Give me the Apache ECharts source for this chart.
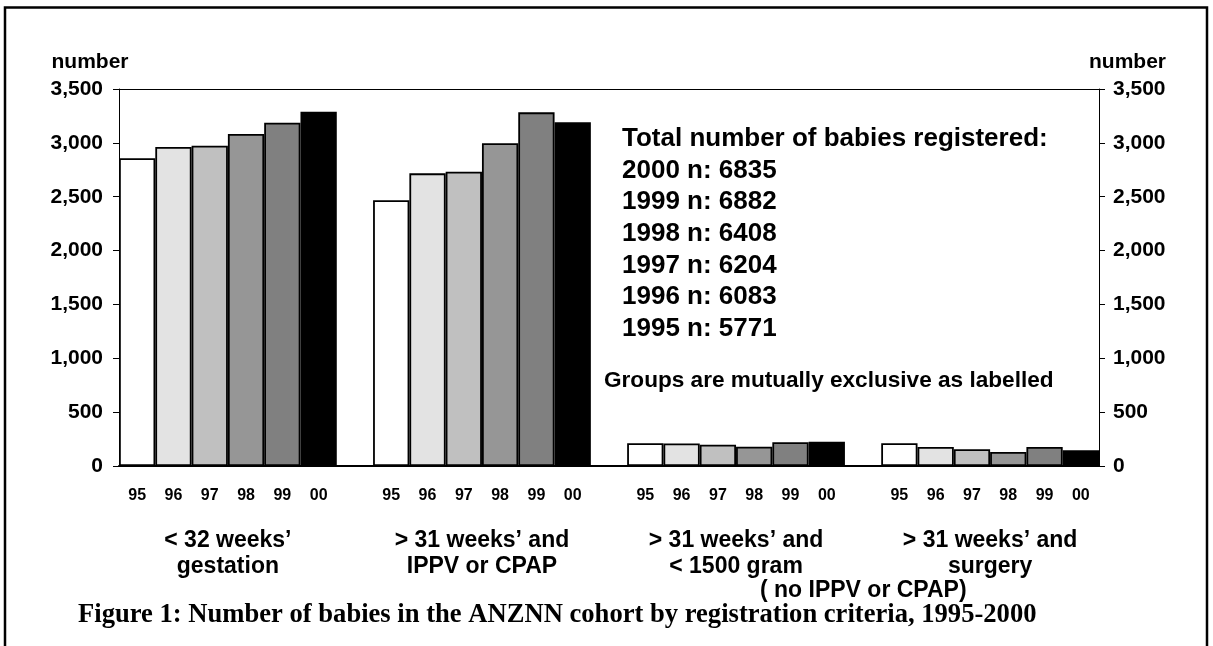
<!DOCTYPE html>
<html>
<head>
<meta charset="utf-8">
<title>ANZNN cohort by registration criteria</title>
<script src="https://cdn.jsdelivr.net/npm/echarts@6/dist/echarts.min.js"></script>
<style>
  html, body { margin: 0; padding: 0; background: #fff; }
  #main { width: 1213px; height: 646px; }
</style>
</head>
<body>
<div id="main"></div>
<script>
  // years shown under each bar
  var years = ['95', '96', '97', '98', '99', '00'];
  // registration groups
  var groupLabels = [
    '< 32 weeks’\ngestation',
    '> 31 weeks’ and\nIPPV or CPAP',
    '> 31 weeks’ and\n< 1500 gram',
    '> 31 weeks’ and\nsurgery'
  ];
  // values per year, one entry per group
  var y1995 = [2857, 2467, 211, 211];
  var y1996 = [2961, 2717, 210, 176];
  var y1997 = [2974, 2732, 198, 155];
  var y1998 = [3082, 2996, 179, 130];
  var y1999 = [3187, 3283, 220, 176];
  var y2000 = [3289, 3191, 226, 146];
  var yearValues = [y1995, y1996, y1997, y1998, y1999, y2000];
  // y axis ticks
  var yMin = 0, yMax = 3500, yStep = 500;
  // text block
  var totals = [
    'Total number of babies registered:',
    '2000 n: 6835',
    '1999 n: 6882',
    '1998 n: 6408',
    '1997 n: 6204',
    '1996 n: 6083',
    '1995 n: 5771'
  ];

  var colors = ['#ffffff', '#e3e3e3', '#c0c0c0', '#969696', '#808080', '#000000'];
  var sans = "'Liberation Sans', Arial, sans-serif";

  // one slot per bar, plus an empty slot between groups
  var slots = [];
  for (var g = 0; g < groupLabels.length; g++) {
    for (var y = 0; y < years.length; y++) slots.push(years[y]);
    if (g < groupLabels.length - 1) slots.push('');
  }
  var nSlots = slots.length;

  function slotIndex(g, y) {
    return g * (years.length + 1) + y;
  }

  function fmt(v) {
    return String(v).replace(/\B(?=(\d{3})+(?!\d))/g, ',');
  }

  var series = [];
  for (var i = 0; i < years.length; i++) {
    var d = [];
    for (var k = 0; k < nSlots; k++) d.push('-');
    for (var gg = 0; gg < groupLabels.length; gg++) d[slotIndex(gg, i)] = yearValues[i][gg];
    series.push({
      name: years[i],
      type: 'bar',
      data: d,
      barGap: '-100%',
      barCategoryGap: '0%',
      itemStyle: {
        color: colors[i],
        borderColor: '#000',
        borderWidth: 1.8
      }
    });
  }

  // centre of each group on a 0..nSlots scale
  var groupCentres = groupLabels.map(function (s, gi) {
    return gi * (years.length + 1) + years.length / 2;
  });

  var myChart = echarts.init(document.getElementById('main'));

  var graphics = [{
    type: 'rect',
    shape: { x: 5, y: 7.5, width: 1202, height: 660 },
    style: { fill: null, stroke: '#000', lineWidth: 2.5 },
    silent: true
  }];
  for (var t = 0; t < totals.length; t++) {
    graphics.push({
      type: 'text',
      left: 622,
      top: 138 + t * 31.6 - 12,
      style: { text: totals[t], font: 'bold 26px ' + sans, fill: '#000' }
    });
  }
  graphics.push({
    type: 'text',
    left: 604,
    top: 369,
    style: { text: 'Groups are mutually exclusive as labelled', font: 'bold 22.6px ' + sans, fill: '#000' }
  });
  graphics.push({
    type: 'text',
    left: 760,
    top: 579,
    style: { text: '( no IPPV or CPAP)', font: 'bold 23px ' + sans, fill: '#000' }
  });
  graphics.push({
    type: 'text',
    left: 78,
    top: 602,
    style: {
      text: 'Figure 1: Number of babies in the ANZNN cohort by registration criteria, 1995-2000',
      font: 'bold 26.6px "Liberation Serif", "Times New Roman", serif',
      fill: '#000'
    }
  });

  myChart.setOption({
    animation: false,
    grid: {
      left: 119,
      right: 114,
      top: 89,
      bottom: 180
    },
    xAxis: [{
      type: 'category',
      data: slots,
      axisLine: { lineStyle: { color: '#000', width: 2 } },
      axisTick: { show: false },
      axisLabel: {
        interval: 0,
        margin: 22,
        color: '#000',
        fontFamily: sans,
        fontWeight: 'bold',
        fontSize: 16
      }
    }, {
      // group captions under the year labels
      type: 'value',
      position: 'bottom',
      min: 0,
      max: nSlots,
      interval: 1,
      axisLine: { show: false },
      axisTick: { show: false },
      splitLine: { show: false },
      axisLabel: {
        margin: 62,
        color: '#000',
        fontFamily: sans,
        fontWeight: 'bold',
        fontSize: 23,
        lineHeight: 26,
        showMinLabel: true,
        showMaxLabel: true,
        formatter: function (v) {
          var idx = groupCentres.indexOf(v);
          return idx >= 0 ? groupLabels[idx] : '';
        }
      }
    }, {
      // top border line of the plot
      type: 'category',
      position: 'top',
      data: slots,
      axisLine: { lineStyle: { color: '#000', width: 1 } },
      axisTick: { show: false },
      axisLabel: { show: false }
    }],
    yAxis: [{
      type: 'value',
      min: yMin,
      max: yMax,
      interval: yStep,
      name: 'number',
      nameLocation: 'end',
      nameGap: 16,
      nameTextStyle: {
        color: '#000',
        fontFamily: sans,
        fontWeight: 'bold',
        fontSize: 21,
        align: 'center',
        padding: [0, 58, 0, 0]
      },
      axisLine: { show: true, lineStyle: { color: '#000', width: 1 } },
      axisTick: { show: true, length: 6, lineStyle: { color: '#000' } },
      splitLine: { show: false },
      axisLabel: {
        margin: 16,
        color: '#000',
        fontFamily: sans,
        fontWeight: 'bold',
        fontSize: 21,
        formatter: fmt
      }
    }, {
      type: 'value',
      position: 'right',
      min: yMin,
      max: yMax,
      interval: yStep,
      name: 'number',
      nameLocation: 'end',
      nameGap: 16,
      nameTextStyle: {
        color: '#000',
        fontFamily: sans,
        fontWeight: 'bold',
        fontSize: 21,
        align: 'center',
        padding: [0, 0, 0, 57]
      },
      axisLine: { show: true, lineStyle: { color: '#000', width: 1 } },
      axisTick: { show: true, length: 6, lineStyle: { color: '#000' } },
      splitLine: { show: false },
      axisLabel: {
        margin: 14,
        color: '#000',
        fontFamily: sans,
        fontWeight: 'bold',
        fontSize: 21,
        formatter: fmt
      }
    }],
    graphic: graphics,
    series: series
  });
</script>
</body>
</html>
